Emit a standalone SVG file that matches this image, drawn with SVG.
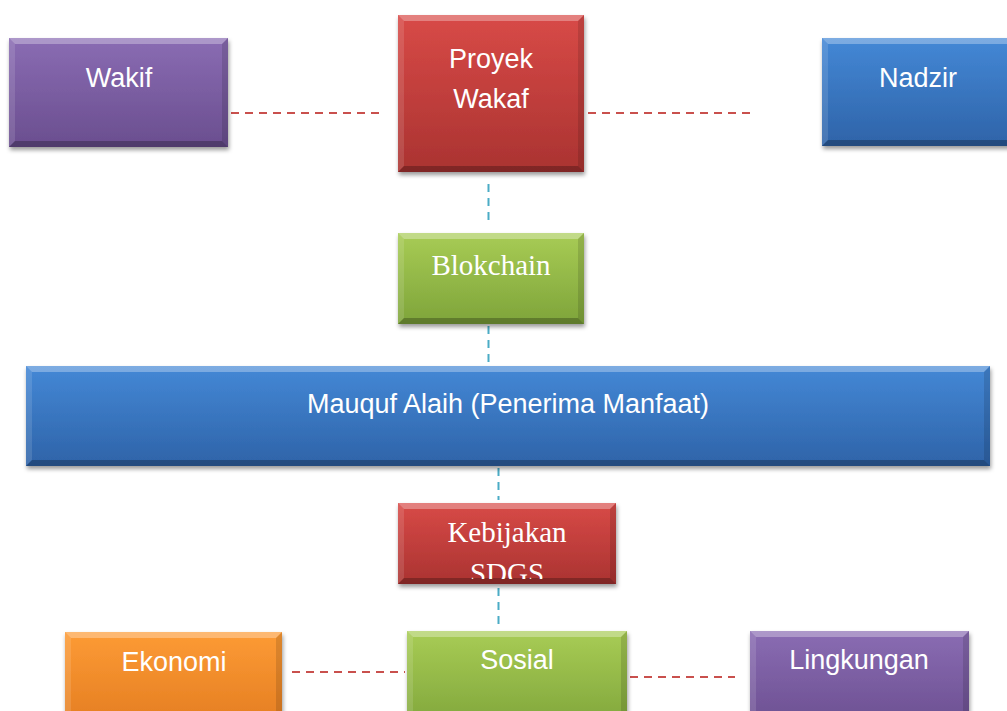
<svg xmlns="http://www.w3.org/2000/svg" width="1007" height="711" viewBox="0 0 1007 711">
<defs>
  <linearGradient id="gPurple" x1="0" y1="0" x2="0" y2="1">
    <stop offset="0" stop-color="#8a6cb3"/><stop offset="1" stop-color="#6a4e8f"/>
  </linearGradient>
  <linearGradient id="gRed" x1="0" y1="0" x2="0" y2="1">
    <stop offset="0" stop-color="#d84a47"/><stop offset="1" stop-color="#aa3331"/>
  </linearGradient>
  <linearGradient id="gBlue" x1="0" y1="0" x2="0" y2="1">
    <stop offset="0" stop-color="#4488d6"/><stop offset="1" stop-color="#2e63a8"/>
  </linearGradient>
  <linearGradient id="gGreen" x1="0" y1="0" x2="0" y2="1">
    <stop offset="0" stop-color="#a8cc55"/><stop offset="1" stop-color="#7ea43a"/>
  </linearGradient>
  <linearGradient id="gOrange" x1="0" y1="0" x2="0" y2="1">
    <stop offset="0" stop-color="#fd9b35"/><stop offset="1" stop-color="#e27b20"/>
  </linearGradient>
  <filter id="sh" x="-10%" y="-10%" width="125%" height="130%">
    <feDropShadow dx="1" dy="3" stdDeviation="2.2" flood-color="#000" flood-opacity="0.4"/>
  </filter>
  <clipPath id="clipSdgs"><rect x="398" y="503" width="218" height="76"/></clipPath>
</defs>
<style>
  .bt{fill:#fff;opacity:0.3}
  .bl{fill:#fff;opacity:0.12}
  .bb{fill:#000;opacity:0.25}
  .br{fill:#000;opacity:0.12}
  .sans{font-family:"Liberation Sans",Arial,sans-serif;font-size:27px;fill:#fff;text-anchor:middle}
  .serif{font-family:"Liberation Serif","Times New Roman",serif;font-size:29px;fill:#fff;text-anchor:middle}
  .red{stroke:#c9504d;stroke-width:2;stroke-dasharray:8 6;fill:none}
  .teal{stroke:#4bacc6;stroke-width:2;stroke-dasharray:8 6;fill:none}
</style>

<g id="connectors">
  <line class="red" x1="231" y1="113" x2="380" y2="113"/>
  <line class="red" x1="588" y1="113" x2="752" y2="113"/>
  <line class="teal" x1="488.5" y1="184" x2="488.5" y2="226"/>
  <line class="teal" x1="488.5" y1="326" x2="488.5" y2="362"/>
  <line class="teal" x1="498.5" y1="468" x2="498.5" y2="500"/>
  <line class="teal" x1="498.5" y1="588" x2="498.5" y2="624"/>
  <line class="red" x1="292" y1="672" x2="405" y2="672"/>
  <line class="red" x1="630" y1="677" x2="735" y2="677"/>
</g>

<g id="wakif">
  <rect x="9" y="38" width="219" height="109" fill="url(#gPurple)" filter="url(#sh)"/>
  <polygon class="bt" points="9,38 228,38 222,44 15,44"/>
  <polygon class="bl" points="9,38 15,44 15,141 9,147"/>
  <polygon class="bb" points="9,147 15,141 222,141 228,147"/>
  <polygon class="br" points="228,38 228,147 222,141 222,44"/>
  <text class="sans" x="119" y="87">Wakif</text>
</g>

<g id="proyek">
  <rect x="398" y="15" width="186" height="157" fill="url(#gRed)" filter="url(#sh)"/>
  <polygon class="bt" points="398,15 584,15 578,21 404,21"/>
  <polygon class="bl" points="398,15 404,21 404,166 398,172"/>
  <polygon class="bb" points="398,172 404,166 578,166 584,172"/>
  <polygon class="br" points="584,15 584,172 578,166 578,21"/>
  <text class="sans" x="491" y="68">Proyek</text>
  <text class="sans" x="491" y="108">Wakaf</text>
</g>

<g id="nadzir">
  <rect x="822" y="38" width="200" height="108" fill="url(#gBlue)" filter="url(#sh)"/>
  <polygon class="bt" points="822,38 1022,38 1016,44 828,44"/>
  <polygon class="bl" points="822,38 828,44 828,140 822,146"/>
  <polygon class="bb" points="822,146 828,140 1016,140 1022,146"/>
  <text class="sans" x="918" y="87">Nadzir</text>
</g>

<g id="blokchain">
  <rect x="398" y="233" width="186" height="91" fill="url(#gGreen)" filter="url(#sh)"/>
  <polygon class="bt" points="398,233 584,233 578,239 404,239"/>
  <polygon class="bl" points="398,233 404,239 404,318 398,324"/>
  <polygon class="bb" points="398,324 404,318 578,318 584,324"/>
  <polygon class="br" points="584,233 584,324 578,318 578,239"/>
  <text class="serif" x="491" y="275">Blokchain</text>
</g>

<g id="mauquf">
  <rect x="26" y="366" width="964" height="100" fill="url(#gBlue)" filter="url(#sh)"/>
  <polygon class="bt" points="26,366 990,366 984,372 32,372"/>
  <polygon class="bl" points="26,366 32,372 32,460 26,466"/>
  <polygon class="bb" points="26,466 32,460 984,460 990,466"/>
  <polygon class="br" points="990,366 990,466 984,460 984,372"/>
  <text class="sans" x="508" y="413">Mauquf Alaih (Penerima Manfaat)</text>
</g>

<g id="kebijakan">
  <rect x="398" y="503" width="218" height="81" fill="url(#gRed)" filter="url(#sh)"/>
  <polygon class="bt" points="398,503 616,503 610,509 404,509"/>
  <polygon class="bl" points="398,503 404,509 404,578 398,584"/>
  <polygon class="bb" points="398,584 404,578 610,578 616,584"/>
  <polygon class="br" points="616,503 616,584 610,578 610,509"/>
  <text class="serif" x="507" y="542">Kebijakan</text>
  <text class="serif" x="507" y="583" clip-path="url(#clipSdgs)">SDGS</text>
</g>

<g id="ekonomi">
  <rect x="65" y="632" width="217" height="100" fill="url(#gOrange)" filter="url(#sh)"/>
  <polygon class="bt" points="65,632 282,632 276,638 71,638"/>
  <polygon class="bl" points="65,632 71,638 71,732 65,732"/>
  <polygon class="br" points="282,632 282,732 276,732 276,638"/>
  <text class="sans" x="174" y="671">Ekonomi</text>
</g>

<g id="sosial">
  <rect x="407" y="631" width="220" height="100" fill="url(#gGreen)" filter="url(#sh)"/>
  <polygon class="bt" points="407,631 627,631 621,637 413,637"/>
  <polygon class="bl" points="407,631 413,637 413,731 407,731"/>
  <polygon class="br" points="627,631 627,731 621,731 621,637"/>
  <text class="sans" x="517" y="669">Sosial</text>
</g>

<g id="lingkungan">
  <rect x="750" y="631" width="219" height="100" fill="url(#gPurple)" filter="url(#sh)"/>
  <polygon class="bt" points="750,631 969,631 963,637 756,637"/>
  <polygon class="bl" points="750,631 756,637 756,731 750,731"/>
  <polygon class="br" points="969,631 969,731 963,731 963,637"/>
  <text class="sans" x="859" y="669">Lingkungan</text>
</g>
</svg>
